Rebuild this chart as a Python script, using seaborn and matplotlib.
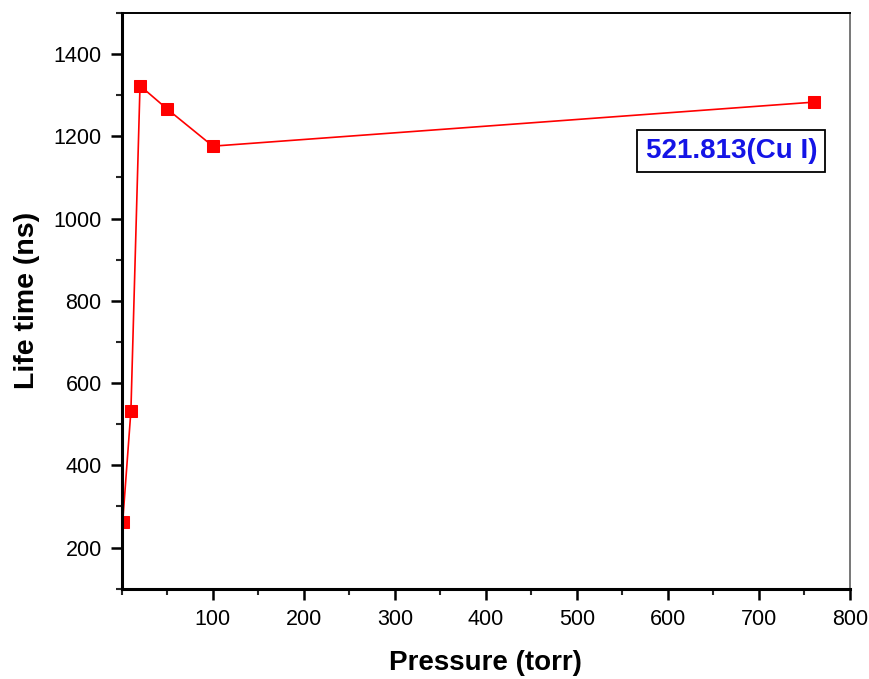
import numpy as np
import pandas as pd
import matplotlib
matplotlib.use("Agg")
import matplotlib.pyplot as plt
import seaborn as sns
from matplotlib.ticker import MultipleLocator

pressure = [1, 10, 20, 50, 100, 760]
life_time = [263, 532, 1323, 1266, 1176, 1283]
x_ticks = [100, 200, 300, 400, 500, 600, 700, 800]
y_ticks = [200, 400, 600, 800, 1000, 1200, 1400]
label = "521.813(Cu I)"

sns.set_theme(style="ticks")
plt.rcParams['font.family'] = ['Liberation Sans', 'DejaVu Sans']

df = pd.DataFrame({"Pressure": pressure, "Life": life_time})

fig = plt.figure(figsize=(8.7, 6.79), dpi=100)
ax = fig.add_axes([0.140, 0.133, 0.837, 0.848])

sns.lineplot(data=df, x="Pressure", y="Life", ax=ax, color="red", lw=1.2,
             marker="s", markersize=9, markeredgecolor="red", clip_on=True)

ax.set_xlim(0, 800)
ax.set_ylim(100, 1500)
ax.set_xticks(x_ticks)
ax.set_yticks(y_ticks)
ax.xaxis.set_minor_locator(MultipleLocator(50))
ax.yaxis.set_minor_locator(MultipleLocator(100))
ax.tick_params(which="major", direction="out", length=8, width=1.8,
               labelsize=15.5, colors="black", pad=6.5)
ax.tick_params(which="minor", direction="out", length=4.5, width=1.5)
ax.tick_params(top=False, right=False, which="both")

for s in ["left", "bottom"]:
    ax.spines[s].set_linewidth(2.2)
    ax.spines[s].set_color("black")
ax.spines["top"].set_linewidth(1.4)
ax.spines["top"].set_color("black")
ax.spines["right"].set_linewidth(1.4)
ax.spines["right"].set_color("#777777")

ax.set_xlabel("Pressure (torr)", fontsize=20, fontweight="bold", color="black")
ax.set_ylabel("Life time (ns)", fontsize=20.5, fontweight="bold", color="black")
ax.xaxis.set_label_coords(0.5, -0.107)
ax.yaxis.set_label_coords(-0.113, 0.5)

ax.text(0.837, 0.760, label, transform=ax.transAxes, ha="center", va="center",
        fontsize=20, fontweight="bold", color="#1414e6",
        bbox=dict(boxstyle="square,pad=0.3", fc="white", ec="black", lw=1.3))

fig.savefig("out.png", dpi=100)
